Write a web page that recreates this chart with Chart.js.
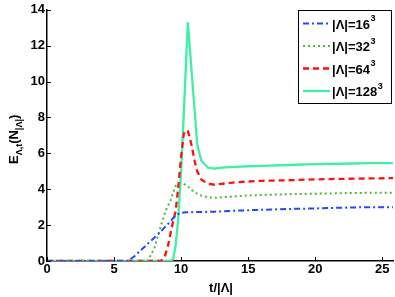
<!DOCTYPE html>
<html>
<head>
<meta charset="utf-8">
<script src="https://cdn.jsdelivr.net/npm/chart.js@4.4.0/dist/chart.umd.min.js"></script>
<style>
  html, body { margin: 0; padding: 0; background: #fff; }
  #wrap { width: 395px; height: 297px; }
</style>
</head>
<body>
<div id="wrap"><canvas id="grafico"></canvas></div>
<script>
// time axis t/|Λ|
const tiempos = [0, 5, 5.5, 6, 6.5, 7, 7.5, 8, 8.5, 8.8, 9, 9.2, 9.4, 9.6, 9.8, 10, 10.2, 10.4, 10.5, 10.6, 10.8, 11, 11.2, 11.5, 12, 12.5, 13, 14, 15, 16, 18, 20, 22, 24, 25.8];

const serie16 = [0, 0, 0, 0, 0.25, 0.6, 0.95, 1.3, 1.65, 1.9, 2.05, 2.2, 2.38, 2.52, 2.62, 2.68, 2.7, 2.71, 2.71, 2.72, 2.72, 2.72, 2.73, 2.73, 2.74, 2.75, 2.76, 2.8, 2.83, 2.85, 2.9, 2.93, 2.97, 3.0, 3.0];
const serie32 = [0, 0, 0, 0, 0, 0, 0, 0.7, 2.0, 2.7, 3.05, 3.35, 3.8, 4.2, 4.3, 4.33, 4.3, 4.2, 4.15, 4.1, 3.95, 3.85, 3.75, 3.65, 3.55, 3.52, 3.55, 3.6, 3.65, 3.68, 3.72, 3.75, 3.78, 3.8, 3.8];
const serie64 = [0, 0, 0, 0, 0, 0, 0, 0, 0, 0.3, 0.77, 1.5, 2.2, 2.8, 4.2, 5.8, 7.1, 7.3, 7.25, 7.0, 6.4, 5.6, 5.0, 4.55, 4.3, 4.25, 4.3, 4.38, 4.43, 4.47, 4.5, 4.55, 4.58, 4.6, 4.62];
const serie128 = [0, 0, 0, 0, 0, 0, 0, 0, 0, 0, 0, 0, 0.1, 0.9, 2.5, 5.0, 8.2, 11.6, 13.3, 12.4, 10.4, 8.5, 6.5, 5.6, 5.2, 5.15, 5.2, 5.25, 5.28, 5.3, 5.35, 5.4, 5.42, 5.45, 5.45];

const etiquetas = ["|Λ|=16", "|Λ|=32", "|Λ|=64", "|Λ|=128"];
const ticksX = [0, 5, 10, 15, 20, 25];
const ticksY = [0, 2, 4, 6, 8, 10, 12, 14];

const colores = ["#2346ff", "#4fb83a", "#ff1010", "#3ef0a6"];
const guiones = [[6, 3, 2, 3], [2, 3], [6, 4], []];
const grosores = [2, 2, 2.3, 2.3];

const series = [serie16, serie32, serie64, serie128];
const FUENTE = "'Liberation Sans', Arial, sans-serif";

const datasets = series.map((s, i) => ({
  label: etiquetas[i],
  data: tiempos.map((t, k) => ({ x: t, y: s[k] })),
  borderColor: colores[i],
  borderDash: guiones[i],
  borderWidth: grosores[i],
  pointRadius: 0,
  tension: 0,
  fill: false,
}));

// axis titles, inner tick marks and the legend box
const extras = {
  id: "extras",
  afterDraw(chart) {
    const ctx = chart.ctx;
    const a = chart.chartArea;
    const sx = chart.scales.x, sy = chart.scales.y;
    ctx.save();
    ctx.strokeStyle = "#000";
    ctx.lineWidth = 1;
    ctx.beginPath();
    ticksX.forEach((v) => {
      const px = Math.round(sx.getPixelForValue(v)) + 0.5;
      ctx.moveTo(px, a.bottom); ctx.lineTo(px, a.bottom - 4);
    });
    ticksY.forEach((v) => {
      const py = Math.round(sy.getPixelForValue(v)) + 0.5;
      ctx.moveTo(a.left, py); ctx.lineTo(a.left + 4, py);
    });
    ctx.stroke();

    // x title
    ctx.fillStyle = "#000";
    ctx.font = "bold 13px " + FUENTE;
    ctx.textAlign = "center";
    ctx.textBaseline = "alphabetic";
    ctx.fillText("t/|Λ|", (a.left + a.right) / 2 + 1, 292);

    // y title with subscripts
    ctx.save();
    ctx.translate(18, (a.top + a.bottom) / 2 + 4);
    ctx.rotate(-Math.PI / 2);
    ctx.textAlign = "left";
    const partes = [
      ["E", 13, 0], ["Λ,t", 9, 4], ["(N", 13, 0], ["|Λ|", 9, 4], [")", 13, 0],
    ];
    let total = 0;
    partes.forEach((p) => { ctx.font = "bold " + p[1] + "px " + FUENTE; total += ctx.measureText(p[0]).width; });
    let x0 = -total / 2;
    partes.forEach((p) => {
      ctx.font = "bold " + p[1] + "px " + FUENTE;
      ctx.fillText(p[0], x0, p[2]);
      x0 += ctx.measureText(p[0]).width;
    });
    ctx.restore();

    // legend
    const lx = 298, ly = 10, lw = 93, lh = 93;
    ctx.fillStyle = "#fff";
    ctx.fillRect(lx, ly, lw, lh);
    ctx.strokeStyle = "#000";
    ctx.lineWidth = 1;
    ctx.strokeRect(lx + 0.5, ly + 0.5, lw, lh);
    etiquetas.forEach((et, i) => {
      const y = ly + 13 + i * 22.5;
      ctx.save();
      ctx.strokeStyle = colores[i];
      ctx.lineWidth = grosores[i];
      ctx.setLineDash(guiones[i]);
      ctx.beginPath();
      ctx.moveTo(lx + 5, y + 0.5);
      ctx.lineTo(lx + 32, y + 0.5);
      ctx.stroke();
      ctx.restore();
      ctx.fillStyle = "#000";
      ctx.textAlign = "left";
      ctx.textBaseline = "middle";
      ctx.font = "bold 13px " + FUENTE;
      ctx.fillText(et, lx + 34, y + 2);
      const w = ctx.measureText(et).width;
      ctx.font = "bold 9px " + FUENTE;
      ctx.fillText("3", lx + 34 + w + 0.5, y - 4);
    });
    ctx.restore();
  },
};

new Chart(document.getElementById("grafico"), {
  type: "line",
  data: { datasets: datasets },
  options: {
    responsive: true,
    maintainAspectRatio: false,
    animation: false,
    layout: { padding: { left: 0, right: 2, top: 5, bottom: 0 } },
    plugins: { legend: { display: false }, tooltip: { enabled: false } },
    scales: {
      x: {
        type: "linear",
        min: 0,
        max: 25.8,
        afterFit: (s) => { s.height = 36; },
        afterBuildTicks: (s) => { s.ticks = ticksX.map((v) => ({ value: v })); },
        grid: { display: false, drawTicks: false },
        border: { display: true, color: "#000", width: 1.5 },
        ticks: { color: "#000", padding: 1, maxRotation: 0, font: { family: FUENTE, size: 13, weight: "bold" } },
      },
      y: {
        min: 0,
        max: 14,
        afterFit: (s) => { s.width = 47; },
        afterBuildTicks: (s) => { s.ticks = ticksY.map((v) => ({ value: v })); },
        grid: { display: false, drawTicks: false },
        border: { display: true, color: "#000", width: 1.5 },
        ticks: { color: "#000", padding: 2, font: { family: FUENTE, size: 13, weight: "bold" } },
      },
    },
  },
  plugins: [extras],
});
</script>
</body>
</html>
